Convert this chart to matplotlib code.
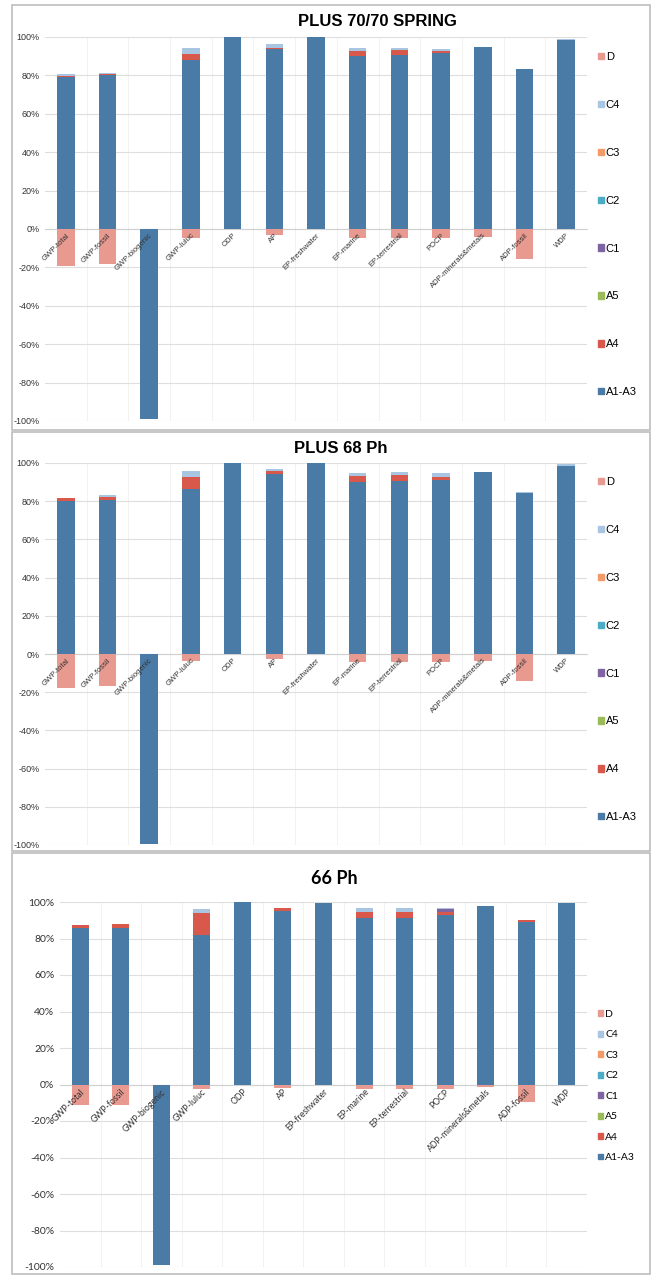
import matplotlib.pyplot as plt
import numpy as np
from matplotlib.patches import Patch, Rectangle
from matplotlib.ticker import FuncFormatter

categories = ['GWP-total', 'GWP-fossil', 'GWP-biogenic', 'GWP-luluc', 'ODP', 'AP',
              'EP-freshwater', 'EP-marine', 'EP-terrestrial', 'POCP',
              'ADP-minerals&metals', 'ADP-fossil', 'WDP']
stages = ['A1-A3', 'A4', 'A5', 'C1', 'C2', 'C3', 'C4', 'D']

# PLUS 70/70 SPRING (% share per stage)
p1_a1a3 = [79, 80, -99, 88, 100, 94, 100, 90, 90.5, 91.5, 95, 83.5, 98.5]
p1_a4 = [0.5, 0.5, 0, 3, 0, 0.5, 0, 2.5, 2.5, 1, 0, 0, 0]
p1_a5 = [0, 0, 0, 0, 0, 0, 0, 0, 0, 0, 0, 0, 0]
p1_c1 = [0, 0, 0, 0, 0, 0, 0, 0, 0, 0, 0, 0, 0]
p1_c2 = [0, 0, 0, 0, 0, 0, 0, 0, 0, 0, 0, 0, 0]
p1_c3 = [0, 0, 0, 0, 0, 0, 0, 0, 0, 0, 0, 0, 0]
p1_c4 = [1, 1, 0, 3.5, 0, 2, 0, 2, 1.5, 1.5, 0, 0, 0.3]
p1_d = [-19.5, -18, 0, -4.5, 0, -3, 0, -4.8, -4.5, -4.5, -4, -15.5, 0]

# PLUS 68 Ph
p2_a1a3 = [80, 80.7, -99.3, 86.3, 100, 94, 100, 90, 90.5, 91.3, 95.5, 84.3, 98.3]
p2_a4 = [1.7, 1.7, 0, 6.3, 0, 2, 0, 3, 3, 1.5, 0, 0, 0]
p2_a5 = [0, 0, 0, 0, 0, 0, 0, 0, 0, 0, 0, 0, 0]
p2_c1 = [0, 0, 0, 0, 0, 0, 0, 0, 0, 0, 0, 0, 0]
p2_c2 = [0, 0, 0, 0, 0, 0, 0, 0, 0, 0, 0, 0, 0]
p2_c3 = [0, 0, 0, 0, 0, 0, 0, 0, 0, 0, 0, 0, 0]
p2_c4 = [0, 0.6, 0, 3, 0, 1, 0, 2, 2, 2, 0, 0.7, 1.2]
p2_d = [-17.9, -16.6, 0, -3.9, 0, -2.6, 0, -4.2, -4.2, -4.2, -3.5, -14.3, 0]

# 66 Ph
p3_a1a3 = [85.6, 85.6, -99, 82, 100, 94.9, 99.5, 91.2, 91.2, 92.7, 97.6, 89, 99.6]
p3_a4 = [1.8, 2.4, 0, 11.7, 0, 1.8, 0, 3.3, 3.3, 2, 0, 1, 0]
p3_a5 = [0, 0, 0, 0, 0, 0, 0, 0, 0, 0, 0, 0, 0]
p3_c1 = [0, 0, 0, 0, 0, 0, 0, 0, 0, 1.5, 0, 0, 0]
p3_c2 = [0, 0, 0, 0, 0, 0, 0, 0, 0, 0, 0, 0, 0]
p3_c3 = [0, 0, 0, 0, 0, 0, 0, 0, 0, 0, 0, 0, 0]
p3_c4 = [0, 0, 0, 2.5, 0, 0, 0, 2.2, 2.2, 0.5, 0, 0, 0]
p3_d = [-11.1, -11, 0, -2.4, 0, -2, 0, -2.4, -2.2, -2.2, -1.5, -9.7, 0]

colors = {'A1-A3': '#4a7ba7', 'A4': '#d9584c', 'A5': '#9bbb59', 'C1': '#8064a2',
          'C2': '#4bacc6', 'C3': '#f39a69', 'C4': '#a8c5e2', 'D': '#e89a90'}

panels = [
    dict(title='PLUS 70/70 SPRING', data=[p1_a1a3, p1_a4, p1_a5, p1_c1, p1_c2, p1_c3, p1_c4, p1_d],
         rect=[45/657, 1-421/1276, 542/657, 384/1276], font='Liberation Sans',
         title_xy=(377, 22), tsize=12, lsize=8, xsize=5.5, ysize=6.5,
         leg_top=52, leg_space=3.41),
    dict(title='PLUS 68 Ph', data=[p2_a1a3, p2_a4, p2_a5, p2_c1, p2_c2, p2_c3, p2_c4, p2_d],
         rect=[45/657, 1-845/1276, 542/657, 382/1276], font='Liberation Sans',
         title_xy=(341, 448), tsize=12, lsize=8, xsize=5.5, ysize=6.5,
         leg_top=477, leg_space=3.41),
    dict(title='66 Ph', data=[p3_a1a3, p3_a4, p3_a5, p3_c1, p3_c2, p3_c3, p3_c4, p3_d],
         rect=[60/657, 1-1267/1276, 527/657, 365/1276], font='Lato',
         title_xy=(334, 878), tsize=13, lsize=7.5, xsize=6.3, ysize=7.5,
         leg_top=1010, leg_space=1.1),
]

fig = plt.figure(figsize=(6.57, 12.76), dpi=100)
W, H = 657, 1276

# chart area frames
for top, bot in [(5, 430), (432, 851), (853, 1274)]:
    fig.patches.append(Rectangle((12/W, 1-bot/H), (650-12)/W, (bot-top)/H,
                                 transform=fig.transFigure, fill=False,
                                 edgecolor='#bdbdbd', linewidth=1.2))

x = np.arange(len(categories))
for p in panels:
    ax = fig.add_axes(p['rect'])
    pos_base = np.zeros(len(categories))
    neg_base = np.zeros(len(categories))
    handles = []
    for stage, vals in zip(stages, p['data']):
        v = np.array(vals) / 100.0
        pos = np.where(v > 0, v, 0)
        neg = np.where(v < 0, v, 0)
        ax.bar(x, pos, 0.42, bottom=pos_base, color=colors[stage], zorder=2)
        ax.bar(x, neg, 0.42, bottom=neg_base, color=colors[stage], zorder=2)
        pos_base += pos
        neg_base += neg
        handles.append(Patch(color=colors[stage], label=stage))

    ax.set_xlim(-0.5, len(categories) - 0.5)
    ax.set_ylim(-1.0, 1.0)
    ax.set_yticks(np.linspace(-1, 1, 11))
    ax.yaxis.set_major_formatter(FuncFormatter(lambda v, _: f'{v*100:.0f}%'))
    ax.grid(axis='y', color='#dedede', linewidth=0.8)
    ax.yaxis.set_zorder(0.5)
    # faint vertical separators between categories
    for b in np.arange(0.5, len(categories) - 1):
        ax.axvline(b, color='#f0f0f0', linewidth=0.6, zorder=0)
    for s in ['top', 'right', 'left']:
        ax.spines[s].set_visible(False)
    ax.spines['bottom'].set_position(('data', 0))
    ax.spines['bottom'].set_color('#d0d0d0')
    ax.spines['bottom'].set_zorder(1)
    ax.xaxis.set_zorder(5)
    ax.tick_params(length=0, which='both')
    ax.set_xticks(x)
    ax.set_xticklabels(categories, rotation=45, ha='right', va='top',
                       rotation_mode='anchor', fontsize=p['xsize'],
                       family=p['font'], color='#333333')
    for lab in ax.get_yticklabels():
        lab.set_fontsize(p['ysize'])
        lab.set_family(p['font'])
        lab.set_color('#333333')
    ax.tick_params(axis='x', pad=2)
    ax.tick_params(axis='y', pad=4)

    fig.text(p['title_xy'][0]/W, 1-p['title_xy'][1]/H, p['title'], ha='center',
             va='center', fontsize=p['tsize'], fontweight='bold', family=p['font'])

    fig.legend(handles[::-1], stages[::-1], loc='upper left',
               bbox_to_anchor=(598/W, 1-p['leg_top']/H), frameon=False,
               handlelength=0.5, handleheight=0.5, handletextpad=0.2,
               labelspacing=p['leg_space'], borderpad=0, borderaxespad=0,
               prop={'family': p['font'], 'size': p['lsize']})

fig.savefig('out.png', dpi=100)
